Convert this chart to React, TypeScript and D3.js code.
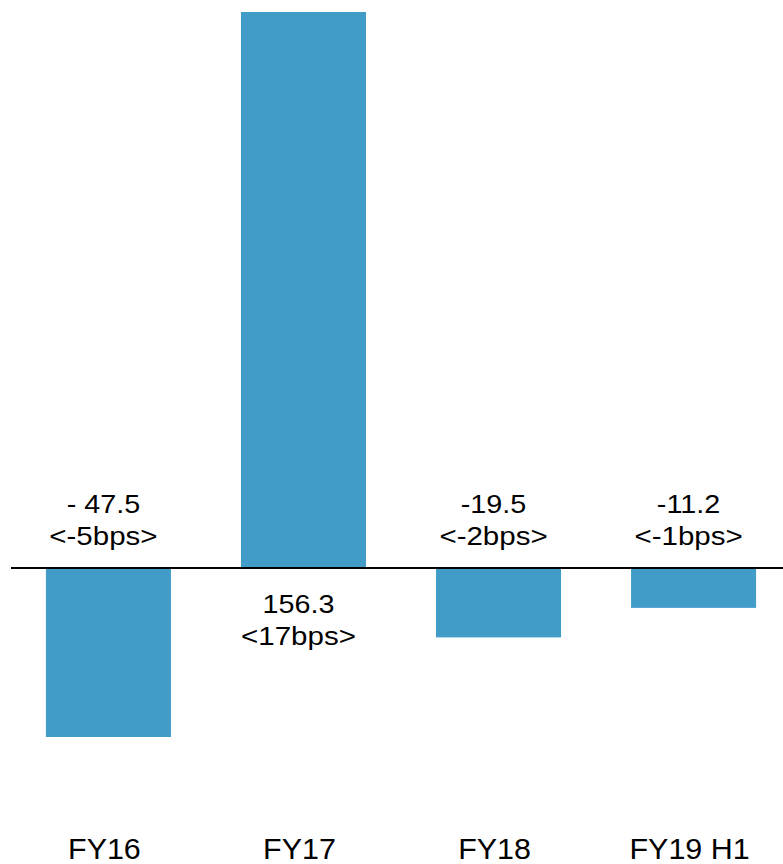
import React from "react";
import * as d3 from "d3";

const categories = ["FY16", "FY17", "FY18", "FY19 H1"];
const values = [-47.5, 156.3, -19.5, -11.2];
const valueLabels = ["- 47.5", "156.3", "-19.5", "-11.2"];
const bpsLabels = ["<-5bps>", "<17bps>", "<-2bps>", "<-1bps>"];

const W = 783;
const H = 864;

export default function App() {
  const x = d3.scaleBand<string>().domain(categories).range([11, 791]).paddingInner(0.359).paddingOuter(0.179);
  const y = d3.scaleLinear().domain([-47.5, 156.3]).range([737, 12]);
  const zero = y(0);
  const font = "'Liberation Sans', Arial, sans-serif";
  const textShift = -5;
  return (
    <div style={{ position: "absolute", left: 0, top: 0 }}>
      <svg width={W} height={H} style={{ display: "block" }}>
        {categories.map((c, i) => {
          const v = values[i];
          return (
            <rect key={c} x={x(c)} width={x.bandwidth()} y={Math.min(y(v), zero)} height={Math.abs(y(v) - zero)} fill="#429CC8" />
          );
        })}
        <line x1={11} x2={W} y1={zero} y2={zero} stroke="#000" strokeWidth={2} />
        {categories.map((c, i) => {
          const v = values[i];
          const cx = (x(c) as number) + x.bandwidth() / 2 + textShift;
          const b1 = v < 0 ? zero - 55 : zero + 45;
          return (
            <g key={c} fontFamily={font} fontSize={25} textAnchor="middle" fill="#000">
              <text transform={`translate(${cx},${b1}) scale(1.15,1)`}>{valueLabels[i]}</text>
              <text transform={`translate(${cx},${b1 + 32}) scale(1.18,1)`}>{bpsLabels[i]}</text>
              <text transform={`translate(${cx + 1},859) scale(1.05,1)`} fontSize={29}>{c}</text>
            </g>
          );
        })}
      </svg>
    </div>
  );
}
